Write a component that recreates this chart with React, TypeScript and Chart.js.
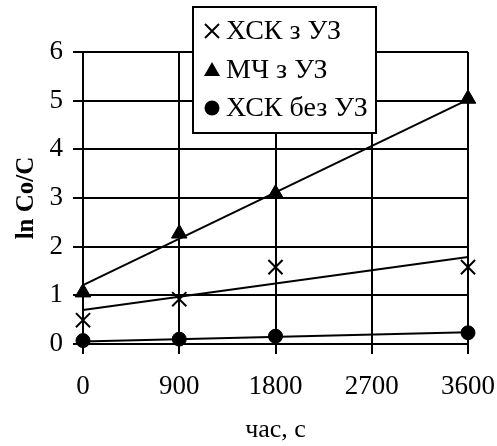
import React, { useEffect, useRef } from "react";
import { Chart, registerables } from "chart.js";

Chart.register(...registerables);

// Data
const timeSec = [0, 900, 1800, 3600];
const xTicks = [0, 900, 1800, 2700, 3600];
const yTicks = [0, 1, 2, 3, 4, 5, 6];
const seriesLabels = ["ХСК з УЗ", "МЧ з УЗ", "ХСК без УЗ"];
const xskWithUS = [0.49, 0.92, 1.58, 1.58];
const mchWithUS = [1.06, 2.27, 3.09, 5.04];
const xskWithoutUS = [0.07, 0.1, 0.16, 0.23];
// Trend lines (endpoints)
const trendX = [0, 3600];
const trendXskWithUS = [0.7, 1.79];
const trendMchWithUS = [1.21, 5.02];
const trendXskWithoutUS = [0.05, 0.24];
const xTitle = "час, с";
const yTitle = "ln Co/C";

const FONT = "'Liberation Serif', 'Times New Roman', serif";

const pts = (xs: number[], ys: number[]) => xs.map((x, i) => ({ x, y: ys[i] }));

function drawMarker(ctx: CanvasRenderingContext2D, style: string, x: number, y: number) {
  ctx.save();
  ctx.fillStyle = "#000";
  ctx.strokeStyle = "#000";
  ctx.lineWidth = 2;
  if (style === "crossRot") {
    const d = 7;
    ctx.beginPath();
    ctx.moveTo(x - d, y - d);
    ctx.lineTo(x + d, y + d);
    ctx.moveTo(x + d, y - d);
    ctx.lineTo(x - d, y + d);
    ctx.stroke();
  } else if (style === "triangle") {
    ctx.beginPath();
    ctx.moveTo(x, y - 8);
    ctx.lineTo(x + 8, y + 6);
    ctx.lineTo(x - 8, y + 6);
    ctx.closePath();
    ctx.fill();
  } else {
    ctx.beginPath();
    ctx.arc(x, y, 7.5, 0, Math.PI * 2);
    ctx.fill();
  }
  ctx.restore();
}

const boxLegend = {
  id: "boxLegend",
  afterDraw(chart: any) {
    const ctx: CanvasRenderingContext2D = chart.ctx;
    const bx = 193, by = 7, bw = 183, bh = 126;
    ctx.save();
    ctx.fillStyle = "#fff";
    ctx.fillRect(bx, by, bw, bh);
    ctx.lineWidth = 2;
    ctx.strokeStyle = "#000";
    ctx.strokeRect(bx, by, bw, bh);
    const items = chart.data.datasets.filter((d: any) => d.legendItem);
    const rowY = [31, 70, 108];
    ctx.font = `28px ${FONT}`;
    ctx.fillStyle = "#000";
    ctx.textBaseline = "middle";
    ctx.textAlign = "left";
    items.forEach((d: any, i: number) => {
      drawMarker(ctx, d.pointStyle, 212, rowY[i]);
      ctx.fillText(d.label, 226, rowY[i] + 1);
    });
    ctx.restore();
  },
};

export default function App() {
  const ref = useRef<HTMLCanvasElement>(null);
  useEffect(() => {
    if (!ref.current) return;
    const common = { borderColor: "#000", backgroundColor: "#000", clip: false as any };
    const chart = new Chart(ref.current, {
      type: "scatter",
      data: {
        datasets: [
          {
            ...common,
            label: "trend1",
            data: pts(trendX, trendXskWithUS),
            showLine: true,
            pointRadius: 0,
            borderWidth: 2,
          },
          {
            ...common,
            label: "trend2",
            data: pts(trendX, trendMchWithUS),
            showLine: true,
            pointRadius: 0,
            borderWidth: 2,
          },
          {
            ...common,
            label: "trend3",
            data: pts(trendX, trendXskWithoutUS),
            showLine: true,
            pointRadius: 0,
            borderWidth: 2,
          },
          {
            ...common,
            label: seriesLabels[0],
            legendItem: true,
            data: pts(timeSec, xskWithUS),
            showLine: false,
            pointStyle: "crossRot",
            pointRadius: 10,
            borderWidth: 2,
          } as any,
          {
            ...common,
            label: seriesLabels[1],
            legendItem: true,
            data: pts(timeSec, mchWithUS),
            showLine: false,
            pointStyle: "triangle",
            pointRadius: 9,
            borderWidth: 1,
          } as any,
          {
            ...common,
            label: seriesLabels[2],
            legendItem: true,
            data: pts(timeSec, xskWithoutUS),
            showLine: false,
            pointStyle: "circle",
            pointRadius: 7,
            borderWidth: 1,
          } as any,
        ],
      },
      options: {
        responsive: false,
        animation: false,
        events: [],
        layout: { padding: { top: 52, right: 29, left: 0, bottom: 0 } },
        plugins: { legend: { display: false }, tooltip: { enabled: false } },
        scales: {
          x: {
            type: "linear",
            min: 0,
            max: 3600,
            afterFit: (s: any) => {
              s.height = 102;
              s.paddingLeft = 0;
              s.paddingRight = 0;
            },
            afterBuildTicks: (s: any) => {
              s.ticks = xTicks.map((v) => ({ value: v }));
            },
            grid: { color: "#000", lineWidth: 2, tickLength: 10, tickColor: "#000", tickWidth: 2 },
            border: { display: true, color: "#000", width: 2 },
            ticks: {
              color: "#000",
              font: { family: FONT, size: 27 },
              padding: 17,
              maxRotation: 0,
              callback: (v: any) => String(v),
            },
            title: {
              display: true,
              text: xTitle,
              color: "#000",
              font: { family: FONT, size: 26 },
              padding: 0,
            },
          },
          y: {
            type: "linear",
            min: 0,
            max: 6,
            afterFit: (s: any) => {
              s.width = 83;
              s.paddingTop = 0;
              s.paddingBottom = 0;
            },
            afterBuildTicks: (s: any) => {
              s.ticks = yTicks.map((v) => ({ value: v }));
            },
            grid: { color: "#000", lineWidth: 2, tickLength: 10, tickColor: "#000", tickWidth: 2 },
            border: { display: true, color: "#000", width: 2 },
            ticks: {
              color: "#000",
              font: { family: FONT, size: 27 },
              padding: 10,
              callback: (v: any) => String(v),
            },
            title: {
              display: true,
              text: yTitle,
              color: "#000",
              font: { family: FONT, size: 25, weight: "bold" },
              padding: { top: 12, bottom: 0 },
            },
          },
        },
      },
      plugins: [boxLegend],
    } as any);
    return () => chart.destroy();
  }, []);
  return (
    <canvas
      ref={ref}
      width={497}
      height={446}
      style={{ position: "absolute", left: 0, top: 0, width: 497, height: 446 }}
    />
  );
}
